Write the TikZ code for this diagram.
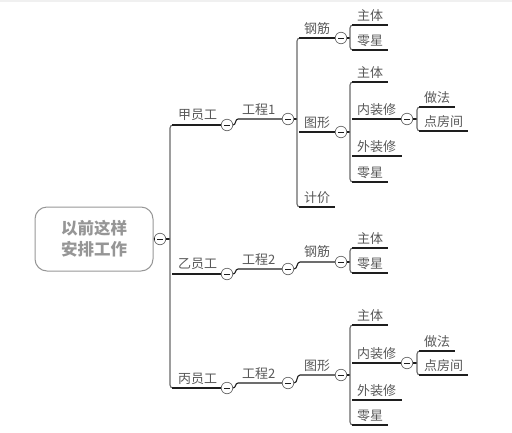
\documentclass[tikz,border=0pt]{standalone}
\usepackage{fontspec}
\setmainfont{Noto Sans CJK SC}
\usetikzlibrary{positioning}
\definecolor{mmtext}{RGB}{88,88,88}
\definecolor{mmline}{RGB}{30,30,30}
\definecolor{mmtrunk}{RGB}{105,105,105}
\definecolor{mmroot}{RGB}{150,150,150}
\tikzset{
  topic/.style={anchor=west,inner sep=0pt,text=mmtext,font=\fontsize{13}{15}\selectfont},
  rootbox/.style={draw=mmroot,line width=1pt,rounded corners=12pt,minimum width=118pt,
    minimum height=64pt,align=center,text=mmroot,font=\fontsize{16.5}{21}\selectfont\bfseries},
  btn/.style={circle,draw=mmtrunk,fill=white,minimum size=11.5pt,inner sep=0pt,line width=0.7pt,
    path picture={\draw[mmline,line width=0.8pt]
      ([xshift=-2.8pt]path picture bounding box.center)--([xshift=2.8pt]path picture bounding box.center);}},
  ul/.style={draw=mmline,line width=1.1pt},
  trunk/.style={draw=mmtrunk,line width=1.1pt,rounded corners=3pt},
}
\begin{document}
\begin{tikzpicture}[x=1pt,y=-1pt]
  \useasboundingbox (0,0) rectangle (512,432);
  \fill[gray!12] (0,0) rectangle (512,1.5);
  % root
  \node[rootbox] (root) at (94,239) {以前这样\\安排工作};
  \node[btn] (b0) at (160,239) {};
  \draw[ul] (root.east) -- (b0.west);
  \draw[ul] (b0.east) -- (170,239);
  \draw[trunk] (176,125) -- (170,125) -- (170,388) -- (176,388);
  % 甲员工
  \node[topic] (jia) at (178,115) {甲员工};
  \node[btn] (bjia) at (227,125) {};
  \draw[ul] (172,125) -- (bjia.west);
  \node[topic] (gca) at (242,110) {工程1};
  \node[btn] (bgca) at (288,119) {};
  \draw[ul] (bjia.east) to[out=0,in=180] (238,119) -- (bgca.west);
  \draw[ul] (bgca.east) -- (297,119);
  \draw[trunk] (303,38) -- (297,38) -- (297,207) -- (303,207);
  \node[topic] (gja) at (304,29) {钢筋};
  \node[btn] (bgja) at (341,38) {};
  \draw[ul] (299,38) -- (bgja.west);
  \draw[ul] (bgja.east) -- (350,38);
  \draw[trunk] (356,25) -- (350,25) -- (350,50) -- (356,50);
  \node[topic] (gja1) at (357,16) {主体};
  \node[topic] (gja2) at (357,41) {零星};
  \draw[ul] (352,25) -- (388,25);
  \draw[ul] (352,50) -- (388,50);
  \node[topic] (txa) at (304,123) {图形};
  \node[btn] (btxa) at (341,132) {};
  \draw[ul] (299,132) -- (btxa.west);
  \draw[ul] (btxa.east) -- (350,132);
  \draw[trunk] (356,82) -- (350,82) -- (350,182) -- (356,182);
  \node[topic] (txa1) at (357,73) {主体};
  \node[topic] (txa2) at (357,110) {内装修};
  \node[topic] (txa3) at (357,147) {外装修};
  \node[topic] (txa4) at (357,173) {零星};
  \draw[ul] (352,82) -- (388,82);
  \node[btn] (bnza) at (407,119) {};
  \draw[ul] (352,119) -- (bnza.west);
  \draw[ul] (bnza.east) -- (417,119);
  \draw[ul] (352,156) -- (402,156);
  \draw[ul] (352,182) -- (388,182);
  \draw[trunk] (423,107) -- (417,107) -- (417,131) -- (423,131);
  \node[topic] (nza1) at (424,98) {做法};
  \node[topic] (nza2) at (424,122) {点房间};
  \draw[ul] (419,107) -- (455,107);
  \draw[ul] (419,131) -- (468,131);
  \node[topic] (jja) at (304,198) {计价};
  \draw[ul] (299,207) -- (335,207);
  % 乙员工
  \node[topic] (yi) at (178,264) {乙员工};
  \node[btn] (byi) at (227,274) {};
  \draw[ul] (172,274) -- (byi.west);
  \node[topic] (gcb) at (242,260) {工程2};
  \node[btn] (bgcb) at (288,269) {};
  \draw[ul] (byi.east) to[out=0,in=180] (238,269) -- (bgcb.west);
  \node[topic] (gjb) at (304,252) {钢筋};
  \node[btn] (bgjb) at (341,262) {};
  \draw[ul] (bgcb.east) to[out=0,in=180] (300,262) -- (bgjb.west);
  \draw[ul] (bgjb.east) -- (350,262);
  \draw[trunk] (356,248) -- (350,248) -- (350,273) -- (356,273);
  \node[topic] (gjb1) at (357,239) {主体};
  \node[topic] (gjb2) at (357,264) {零星};
  \draw[ul] (352,248) -- (388,248);
  \draw[ul] (352,273) -- (388,273);
  % 丙员工
  \node[topic] (bing) at (178,379) {丙员工};
  \node[btn] (bbing) at (227,388) {};
  \draw[ul] (172,388) -- (bbing.west);
  \node[topic] (gcc) at (242,374) {工程2};
  \node[btn] (bgcc) at (288,383) {};
  \draw[ul] (bbing.east) to[out=0,in=180] (238,383) -- (bgcc.west);
  \node[topic] (txc) at (304,366) {图形};
  \node[btn] (btxc) at (341,375) {};
  \draw[ul] (bgcc.east) to[out=0,in=180] (300,375) -- (btxc.west);
  \draw[ul] (btxc.east) -- (350,375);
  \draw[trunk] (356,325) -- (350,325) -- (350,425) -- (356,425);
  \node[topic] (txc1) at (357,316) {主体};
  \node[topic] (txc2) at (357,354) {内装修};
  \node[topic] (txc3) at (357,391) {外装修};
  \node[topic] (txc4) at (357,416) {零星};
  \draw[ul] (352,325) -- (388,325);
  \node[btn] (bnzc) at (407,363) {};
  \draw[ul] (352,363) -- (bnzc.west);
  \draw[ul] (bnzc.east) -- (417,363);
  \draw[ul] (352,400) -- (402,400);
  \draw[ul] (352,425) -- (388,425);
  \draw[trunk] (423,351) -- (417,351) -- (417,375) -- (423,375);
  \node[topic] (nzc1) at (424,342) {做法};
  \node[topic] (nzc2) at (424,366) {点房间};
  \draw[ul] (419,351) -- (455,351);
  \draw[ul] (419,375) -- (468,375);
\end{tikzpicture}
\end{document}
